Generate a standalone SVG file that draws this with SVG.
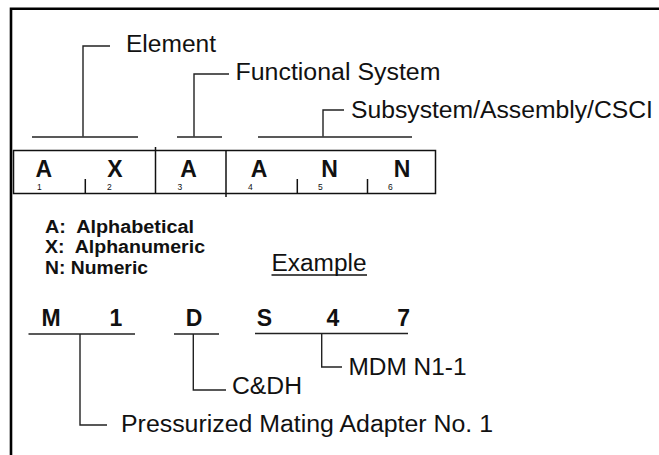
<svg xmlns="http://www.w3.org/2000/svg" width="659" height="455" viewBox="0 0 659 455">
  <style>
    .lbl { font-family: "Liberation Sans", Arial, sans-serif; font-size: 23px; fill: #111; }
    .chr { font-family: "Liberation Sans", Arial, sans-serif; font-size: 23px; font-weight: bold; fill: #111; text-anchor: middle; }
    .pos { font-family: "Liberation Sans", Arial, sans-serif; font-size: 8.5px; fill: #111; }
    .key { font-family: "Liberation Sans", Arial, sans-serif; font-size: 18px; font-weight: bold; fill: #111; }
    .wire { fill: none; stroke: #222; stroke-width: 1.4; }
    .cell { fill: none; stroke: #111; stroke-width: 1.5; }
  </style>

  <rect width="659" height="455" fill="#fff"/>

  <!-- page frame: top and left rules -->
  <path d="M11 455 V8.7 H659" fill="none" stroke="#000" stroke-width="2.6"/>

  <!-- six-character code field -->
  <g id="code-field">
    <rect class="cell" x="13.5" y="150.5" width="422" height="43"/>
    <line class="cell" x1="155.5" y1="147" x2="155.5" y2="193.5"/>
    <line class="cell" x1="226" y1="150.5" x2="226" y2="197"/>
    <line class="cell" x1="85.3" y1="179" x2="85.3" y2="193.5"/>
    <line class="cell" x1="297.3" y1="179" x2="297.3" y2="193.5"/>
    <line class="cell" x1="367.5" y1="179" x2="367.5" y2="193.5"/>
    <text class="chr" x="43.7" y="176.5">A</text>
    <text class="chr" x="115" y="176.5">X</text>
    <text class="chr" x="188.5" y="176.5">A</text>
    <text class="chr" x="259" y="176.5">A</text>
    <text class="chr" x="329.5" y="176.5">N</text>
    <text class="chr" x="402" y="176.5">N</text>
    <text class="pos" x="37" y="190">1</text>
    <text class="pos" x="107" y="190">2</text>
    <text class="pos" x="177.5" y="190">3</text>
    <text class="pos" x="248" y="190">4</text>
    <text class="pos" x="318" y="190">5</text>
    <text class="pos" x="388" y="190">6</text>
  </g>

  <!-- field group labels -->
  <g id="label-element">
    <text class="lbl" x="126" y="52" textLength="90" lengthAdjust="spacingAndGlyphs">Element</text>
  </g>
  <g id="label-functional-system">
    <text class="lbl" x="235.5" y="80" textLength="205" lengthAdjust="spacingAndGlyphs">Functional System</text>
  </g>
  <g id="label-subsystem">
    <text class="lbl" x="351" y="118" textLength="302" lengthAdjust="spacingAndGlyphs">Subsystem/Assembly/CSCI</text>
  </g>

  <!-- character-type key -->
  <g id="key">
    <text class="key" x="45" y="232.5" textLength="149" lengthAdjust="spacingAndGlyphs" xml:space="preserve">A:  Alphabetical</text>
    <text class="key" x="45" y="253" textLength="160" lengthAdjust="spacingAndGlyphs" xml:space="preserve">X:  Alphanumeric</text>
    <text class="key" x="45" y="274" textLength="103" lengthAdjust="spacingAndGlyphs">N: Numeric</text>
  </g>

  <!-- worked example -->
  <g id="example-title">
    <text class="lbl" x="271.5" y="270.5" textLength="95" lengthAdjust="spacingAndGlyphs">Example</text>
    <line x1="271.5" y1="275" x2="367" y2="275" stroke="#111" stroke-width="1.4"/>
  </g>
  <g id="example-code">
    <text class="chr" x="51" y="325.5">M</text>
    <text class="chr" x="116" y="325.5">1</text>
    <text class="chr" x="194" y="325.5">D</text>
    <text class="chr" x="264.5" y="325.5">S</text>
    <text class="chr" x="333" y="325.5">4</text>
    <text class="chr" x="403.7" y="325.5">7</text>
  </g>
  <g id="label-mdm">
    <text class="lbl" x="348.5" y="375" textLength="118" lengthAdjust="spacingAndGlyphs">MDM N1-1</text>
  </g>
  <g id="label-cdh">
    <text class="lbl" x="232" y="394" textLength="70" lengthAdjust="spacingAndGlyphs">C&amp;DH</text>
  </g>
  <g id="label-pma">
    <text class="lbl" x="121" y="431.5" textLength="372" lengthAdjust="spacingAndGlyphs">Pressurized Mating Adapter No. 1</text>
  </g>

  <!-- brackets and leader lines -->
  <g id="connectors">
    <!-- upper: field groups -->
    <line class="wire" x1="32" y1="137" x2="138" y2="137"/>
    <path class="wire" d="M83 136.5 V46 H110"/>
    <line class="wire" x1="177" y1="137" x2="222" y2="137"/>
    <path class="wire" d="M194 136.5 V74 H229"/>
    <line class="wire" x1="258" y1="137" x2="412" y2="137"/>
    <path class="wire" d="M323 136.5 V110 H344"/>
    <!-- lower: example groups -->
    <line class="wire" x1="28.5" y1="334" x2="135" y2="334"/>
    <path class="wire" d="M80 334 V425 H107"/>
    <line class="wire" x1="174" y1="334" x2="219" y2="334"/>
    <path class="wire" d="M193.3 334 V390 H226"/>
    <line class="wire" x1="255" y1="333.5" x2="408" y2="333.5"/>
    <path class="wire" d="M321.7 333.5 V367 H342"/>
  </g>
</svg>
